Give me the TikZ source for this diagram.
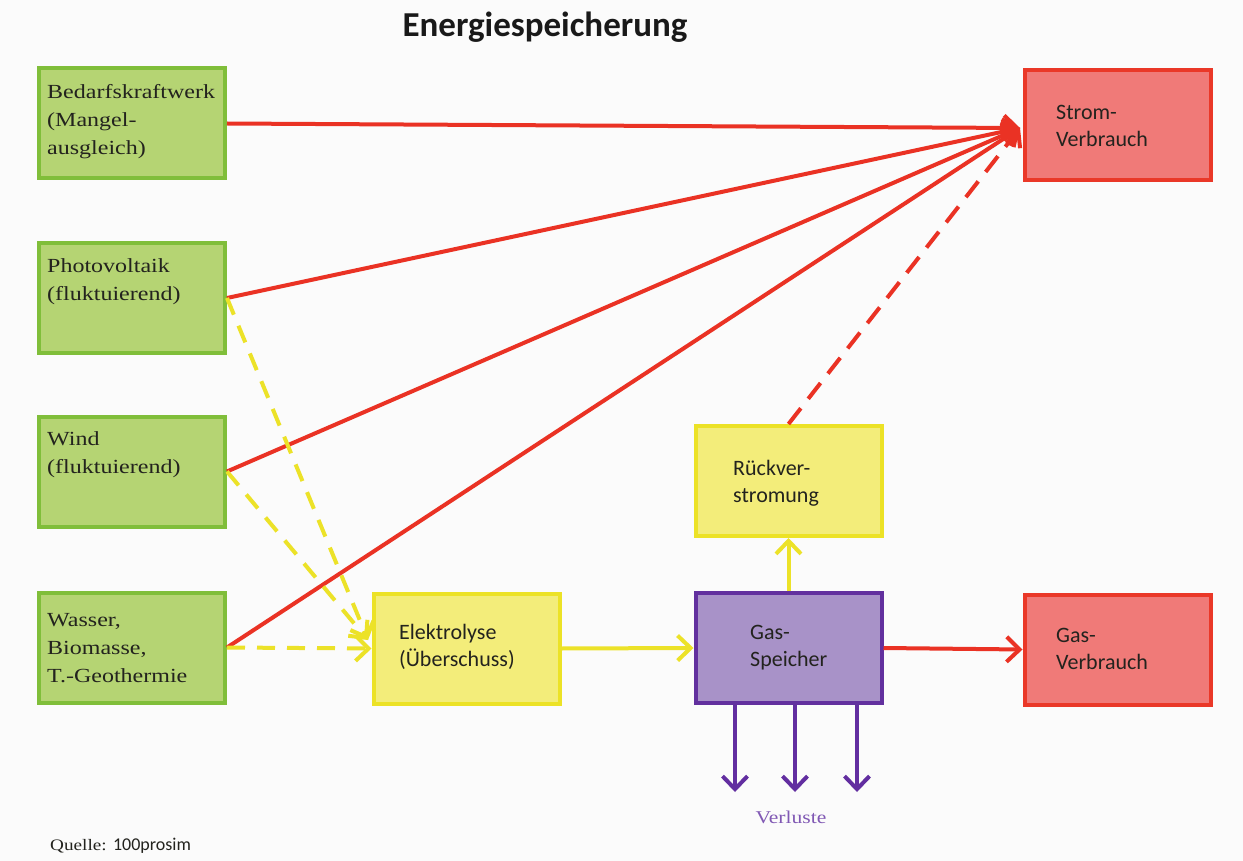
\documentclass[tikz,border=0pt]{standalone}
\usepackage{fontspec}
\setmainfont{Liberation Serif}
\newfontfamily\boxserif[FakeStretch=1.2]{Liberation Serif}
\newfontfamily\boxsans{Carlito}
\usetikzlibrary{arrows.meta}
\definecolor{bgcol}{RGB}{251,251,251}
\definecolor{gfill}{RGB}{181,212,115}
\definecolor{gdraw}{RGB}{128,190,58}
\definecolor{yfill}{RGB}{243,237,122}
\definecolor{ydraw}{RGB}{236,226,38}
\definecolor{pfill}{RGB}{168,146,200}
\definecolor{pdraw}{RGB}{98,48,158}
\definecolor{rfill}{RGB}{240,122,120}
\definecolor{rdraw}{RGB}{234,56,40}
\definecolor{rline}{RGB}{234,50,36}
\definecolor{yline}{RGB}{236,226,40}
\definecolor{pline}{RGB}{98,46,160}
\definecolor{ptext}{RGB}{128,88,180}
\definecolor{txt}{RGB}{35,35,30}
\begin{document}
\begin{tikzpicture}[x=1pt,y=-1pt,
  box/.style={draw, line width=4pt, minimum width=186pt, minimum height=110pt, inner sep=0pt},
  gbox/.style={box, draw=gdraw, fill=gfill},
  ybox/.style={box, draw=ydraw, fill=yfill},
  pbox/.style={box, draw=pdraw, fill=pfill},
  rbox/.style={box, draw=rdraw, fill=rfill},
  gtxt/.style={anchor=west, align=left, inner sep=0pt, text=txt, font=\boxserif\fontsize{20}{28}\selectfont},
  stxt/.style={anchor=west, align=left, inner sep=0pt, text=txt, font=\boxsans\fontsize{22}{27}\selectfont},
  tip/.style={-{Straight Barb[length=13pt,width=25pt]}},
  redarrow/.style={tip, draw=rline, line width=4pt},
  reddash/.style={redarrow, dash pattern=on 20pt off 12pt},
  yelarrow/.style={tip, draw=yline, line width=4pt},
  yeldash/.style={yelarrow, dash pattern=on 18pt off 12pt},
  purarrow/.style={tip, draw=pline, line width=4pt}
]
\fill[bgcol] (0,0) rectangle (1243,861);
\useasboundingbox (0,0) rectangle (1243,861);

\node[font=\boxsans\bfseries\fontsize{35}{40}\selectfont, text=black!90] (title) at (545,27) {Energiespeicherung};

% source boxes
\node[gbox] (bk) at (132,123.5) {};
\node[gbox] (pv) at (132,298) {};
\node[gbox] (wi) at (132,471.5) {};
\node[gbox] (wb) at (132,647.5) {};
\node[gtxt] (bkt) at (47,122) {Bedarfskraftwerk\\(Mangel-\\ausgleich)};
\node[gtxt] (pvt) at (47,282) {Photovoltaik\\(fluktuierend)};
\node[gtxt] (wit) at (47,455) {Wind\\(fluktuierend)};
\node[gtxt] (wbt) at (47,648) {Wasser,\\Biomasse,\\T.-Geothermie};

% processing boxes
\node[ybox] (el) at (466.5,648.5) {};
\node[pbox] (gs) at (788.5,648) {};
\node[ybox] (rv) at (788.5,481) {};
\node[rbox] (sv) at (1118,125) {};
\node[rbox] (gv) at (1117.5,649.5) {};
\node[stxt] (elt) at (399,647) {Elektrolyse\\(Überschuss)};
\node[stxt] (gst) at (750,648) {Gas-\\Speicher};
\node[stxt] (rvt) at (733,483) {Rückver-\\stromung};
\node[stxt] (svt) at (1056,126) {Strom-\\Verbrauch};
\node[stxt] (gvt) at (1056,649) {Gas-\\Verbrauch};

\node[font=\boxserif\fontsize{18}{22}\selectfont, text=ptext] (vl) at (791,817) {Verluste};
\node[anchor=west, inner sep=0pt, text=txt] (src) at (50,846) {\boxserif\fontsize{16}{17}\selectfont Quelle: \boxsans\fontsize{18}{17}\selectfont 100prosim};

% connector end points
\coordinate (svin) at (1020,128);
\coordinate (elin) at (368,640);
\coordinate (l1) at (735,792);
\coordinate (l2) at (795,792);
\coordinate (l3) at (857,792);

% red arrows to Strom-Verbrauch
\draw[redarrow] (bk.east) -- (svin);
\draw[redarrow] (pv.east) -- (svin);
\draw[redarrow] (wi.east) -- (svin);
\draw[redarrow] (wb.east) -- (svin);
\draw[reddash] (rv.north) -- (svin);

% yellow dashed to Elektrolyse
\draw[yeldash] (pv.east) -- (elin);
\draw[yeldash] (wi.east) -- (elin);
\draw[yeldash] (wb.east) -- (el.west);

% gas path
\draw[yelarrow] (el.east) -- (gs.west);
\draw[yelarrow] (gs.north) -- (rv.south);
\draw[redarrow] (gs.east) -- (gv.west);

% losses
\draw[purarrow] (l1 |- gs.south) -- (l1);
\draw[purarrow] (l2 |- gs.south) -- (l2);
\draw[purarrow] (l3 |- gs.south) -- (l3);
\end{tikzpicture}
\end{document}
